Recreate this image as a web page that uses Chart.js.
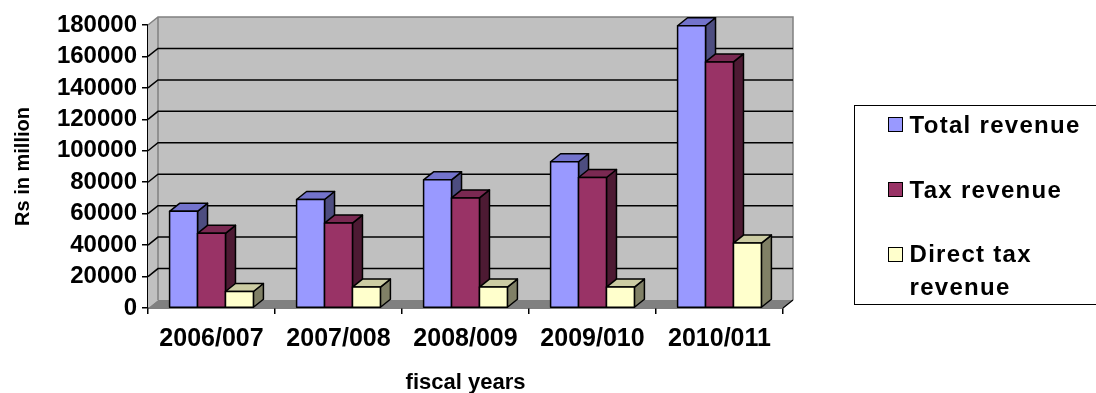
<!DOCTYPE html>
<html>
<head>
<meta charset="utf-8">
<script src="https://cdn.jsdelivr.net/npm/chart.js@4/dist/chart.umd.min.js"></script>
<style>
  html, body { margin: 0; padding: 0; background: #fff; }
  #wrap { position: relative; width: 1096px; height: 393px; overflow: hidden; }
  #chart { position: absolute; left: 0; top: 0; }
  #legend {
    position: absolute; left: 854px; top: 105px; width: 280px; height: 198px;
    border: 1.5px solid #000; box-sizing: content-box;
    font: bold 24px "Liberation Sans", Arial, sans-serif; letter-spacing: 1.3px; color: #000;
  }
  .lg-swatch { position: absolute; width: 13px; height: 13px; border: 1px solid #000; }
  .lg-text { position: absolute; width: 182px; line-height: 33px; white-space: normal; }
</style>
</head>
<body>
<div id="wrap">
  <canvas id="chart" width="1096" height="393"></canvas>
  <div id="legend"></div>
</div>
<script>
// Revenue figures, Rs in million
const categories = ['2006/007', '2007/008', '2008/009', '2009/010', '2010/011'];
const totalRevenue = [61500, 69000, 81500, 93000, 179500];
const taxRevenue = [47500, 54000, 70000, 83000, 156500];
const directTaxRevenue = [10500, 13300, 13300, 13300, 41300];
const seriesNames = ['Total revenue', 'Tax revenue', 'Direct tax revenue'];
const yTickValues = [0, 20000, 40000, 60000, 80000, 100000, 120000, 140000, 160000, 180000];

const FONT = '"Liberation Sans", Arial, sans-serif';

// face colours: front, top, side
const palette = [
  { front: '#9999FF', top: '#7373CC', side: '#4D4D80' },
  { front: '#993366', top: '#7A2952', side: '#4D1A33' },
  { front: '#FFFFCC', top: '#CCCCA3', side: '#808066' }
];

// depth offset of the 3-D box
const DX = 10, DY = 8;

const wallPlugin = {
  id: 'walls',
  beforeDatasetsDraw(chart) {
    const { ctx, chartArea: a } = chart;
    const y = chart.scales.y;
    ctx.save();
    // left side wall
    ctx.fillStyle = '#C0C0C0';
    ctx.beginPath();
    ctx.moveTo(a.left, a.top); ctx.lineTo(a.left + DX, a.top - DY);
    ctx.lineTo(a.left + DX, a.bottom - DY); ctx.lineTo(a.left, a.bottom);
    ctx.closePath(); ctx.fill();
    // back wall
    ctx.fillRect(a.left + DX, a.top - DY, a.right - a.left, a.bottom - a.top);
    ctx.strokeStyle = '#808080'; ctx.lineWidth = 1.5;
    ctx.beginPath();
    ctx.moveTo(a.left, a.top); ctx.lineTo(a.left + DX, a.top - DY);
    ctx.lineTo(a.right + DX, a.top - DY); ctx.lineTo(a.right + DX, a.bottom - DY);
    ctx.moveTo(a.left + DX, a.top - DY); ctx.lineTo(a.left + DX, a.bottom - DY);
    ctx.stroke();
    // floor
    ctx.fillStyle = '#808080';
    ctx.beginPath();
    ctx.moveTo(a.left, a.bottom); ctx.lineTo(a.left + DX, a.bottom - DY);
    ctx.lineTo(a.right + DX, a.bottom - DY); ctx.lineTo(a.right, a.bottom);
    ctx.closePath(); ctx.fill();
    ctx.strokeStyle = '#000'; ctx.lineWidth = 1.2;
    ctx.beginPath();
    ctx.moveTo(a.right, a.bottom); ctx.lineTo(a.right + DX, a.bottom - DY);
    ctx.stroke();
    // gridlines on side and back walls
    ctx.strokeStyle = '#000'; ctx.lineWidth = 1.5;
    yTickValues.forEach(v => {
      if (v === 0 || v === yTickValues[yTickValues.length - 1]) return;
      const py = y.getPixelForValue(v);
      ctx.beginPath();
      ctx.moveTo(a.left, py); ctx.lineTo(a.left + DX, py - DY);
      ctx.lineTo(a.right + DX, py - DY);
      ctx.stroke();
    });
    ctx.restore();
  },
  afterDatasetsDraw(chart) {
    const { ctx } = chart;
    ctx.save();
    ctx.strokeStyle = '#000'; ctx.lineWidth = 1.5; ctx.lineJoin = 'round';
    categories.forEach((_, i) => {
      chart.data.datasets.forEach((ds, d) => {
        const el = chart.getDatasetMeta(d).data[i];
        const c = palette[d];
        const l = el.x - el.width / 2, r = el.x + el.width / 2, t = el.y, b = el.base;
        // side face
        ctx.fillStyle = c.side;
        ctx.beginPath();
        ctx.moveTo(r, t); ctx.lineTo(r + DX, t - DY); ctx.lineTo(r + DX, b - DY); ctx.lineTo(r, b);
        ctx.closePath(); ctx.fill(); ctx.stroke();
        // top face
        ctx.fillStyle = c.top;
        ctx.beginPath();
        ctx.moveTo(l, t); ctx.lineTo(l + DX, t - DY); ctx.lineTo(r + DX, t - DY); ctx.lineTo(r, t);
        ctx.closePath(); ctx.fill(); ctx.stroke();
        // front face
        ctx.fillStyle = c.front;
        ctx.fillRect(l, t, r - l, b - t);
        ctx.strokeRect(l, t, r - l, b - t);
      });
    });
    ctx.restore();
  }
};

const seriesValues = [totalRevenue, taxRevenue, directTaxRevenue];

const chart = new Chart(document.getElementById('chart'), {
  type: 'bar',
  data: {
    labels: categories,
    datasets: seriesValues.map((vals, d) => ({
      label: seriesNames[d],
      data: vals,
      backgroundColor: palette[d].front,
      borderColor: '#000',
      borderWidth: 1.5,
      categoryPercentage: 0.66,
      barPercentage: 1
    }))
  },
  options: {
    responsive: false,
    animation: false,
    devicePixelRatio: 1,
    layout: { padding: { left: 0, right: 313, top: 25, bottom: 0 } },
    plugins: { legend: { display: false }, tooltip: { enabled: false } },
    scales: {
      x: {
        grid: { display: true, drawOnChartArea: false, drawTicks: true, tickLength: 6, color: '#000', lineWidth: 1.5, offset: true },
        border: { display: true, color: '#000', width: 1.5 },
        ticks: { font: { family: FONT, size: 25, weight: 'bold' }, color: '#000', padding: 10, maxRotation: 0, autoSkip: false },
        title: { display: true, text: 'fiscal years', color: '#000', font: { family: FONT, size: 22, weight: 'bold' }, padding: { top: 0, bottom: -3 } },
        afterFit(s) { s.height = 85; }
      },
      y: {
        min: 0, max: 180000,
        afterBuildTicks(s) { s.ticks = yTickValues.map(v => ({ value: v })); },
        grid: { display: true, drawOnChartArea: false, drawTicks: true, tickLength: 6, color: '#000', lineWidth: 1.5 },
        border: { display: true, color: '#000', width: 1.5 },
        ticks: { font: { family: FONT, size: 24, weight: 'bold' }, color: '#000', padding: 5, autoSkip: false, callback: v => String(v) },
        title: { display: true, text: 'Rs in million', color: '#000', font: { family: FONT, size: 20, weight: 'bold' }, padding: { top: 11, bottom: 0 } },
        afterFit(s) { s.width = 148; }
      }
    }
  },
  plugins: [wallPlugin]
});

// legend built from the dataset labels and colours
const legend = document.getElementById('legend');
const rows = [
  { sw: 10.5, text: 2 },
  { sw: 76, text: 67 },
  { sw: 141, text: 131 }
];
chart.data.datasets.forEach((ds, d) => {
  const sw = document.createElement('div');
  sw.className = 'lg-swatch';
  sw.style.left = '32.5px';
  sw.style.top = rows[d].sw + 'px';
  sw.style.background = ds.backgroundColor;
  legend.appendChild(sw);
  const tx = document.createElement('div');
  tx.className = 'lg-text';
  tx.style.left = '54.5px';
  tx.style.top = rows[d].text + 'px';
  tx.textContent = ds.label;
  legend.appendChild(tx);
});
</script>
</body>
</html>
